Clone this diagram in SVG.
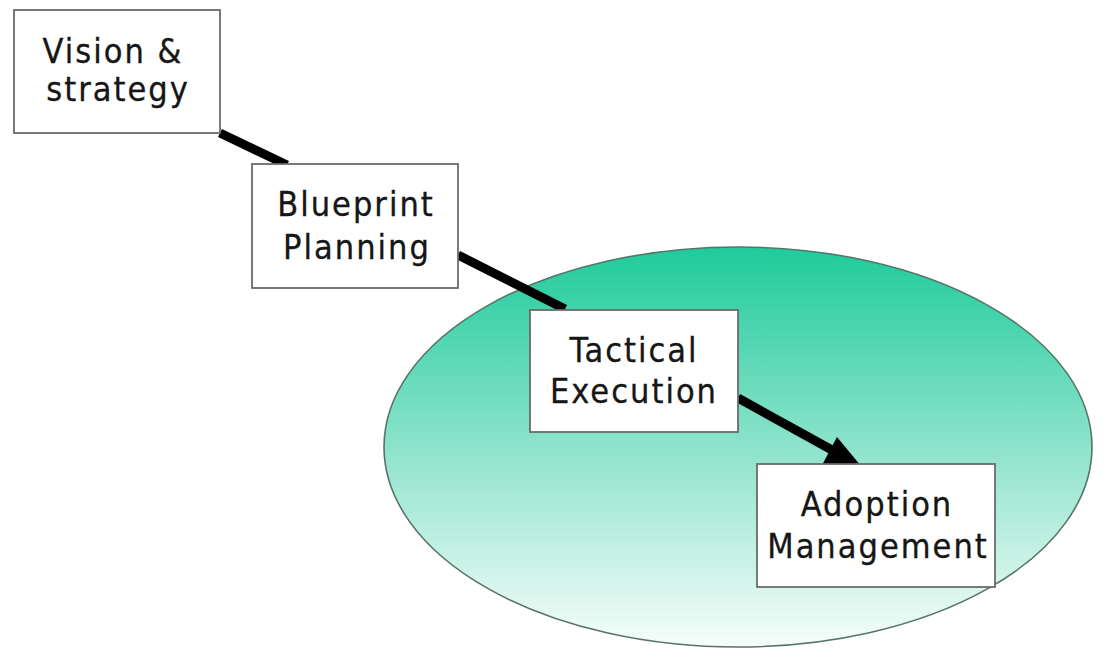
<svg xmlns="http://www.w3.org/2000/svg" width="1104" height="649" viewBox="0 0 1104 649">
  <style>
    .box { fill: #ffffff; stroke: #6b6b6b; stroke-width: 1.8; }
    .label { font-family: "DejaVu Sans Condensed", "DejaVu Sans", Verdana, sans-serif; font-stretch: condensed; font-size: 34px; letter-spacing: 2px; fill: #161616; stroke: #161616; stroke-width: 0.3; text-anchor: middle; }
    .link { stroke: #000000; stroke-width: 9; fill: none; }
  </style>
  <defs>
    <linearGradient id="tealFade" x1="0" y1="0" x2="0" y2="1">
      <stop offset="0" stop-color="#1fcb9a"/>
      <stop offset="0.5" stop-color="#8de3cb"/>
      <stop offset="1" stop-color="#f7fdfb"/>
    </linearGradient>
  </defs>

  <rect width="1104" height="649" fill="#ffffff"/>

  <!-- scope ellipse -->
  <ellipse id="scope" cx="738" cy="447" rx="354" ry="200" fill="url(#tealFade)" stroke="#557568" stroke-width="1.6"/>

  <!-- connectors -->
  <g id="connectors">
    <line class="link" x1="220" y1="133" x2="287" y2="165"/>
    <line class="link" x1="458" y1="255" x2="565" y2="309"/>
    <line class="link" x1="738" y1="398" x2="832" y2="450"/>
    <polygon points="866,472 821,467 837,437" fill="#000000"/>
  </g>

  <g id="vision">
    <rect class="box" x="14" y="10" width="206" height="123"/>
    <text class="label" x="113" y="63">Vision &amp;</text>
    <text class="label" x="118" y="101">strategy</text>
  </g>

  <g id="blueprint">
    <rect class="box" x="252" y="164" width="206" height="124"/>
    <text class="label" x="356" y="216">Blueprint</text>
    <text class="label" x="357" y="259">Planning</text>
  </g>

  <g id="tactical">
    <rect class="box" x="530" y="310" width="208" height="122"/>
    <text class="label" x="634" y="362">Tactical</text>
    <text class="label" x="634" y="403">Execution</text>
  </g>

  <g id="adoption">
    <rect class="box" x="757" y="464" width="238" height="123"/>
    <text class="label" x="877" y="516">Adoption</text>
    <text class="label" x="878" y="558">Management</text>
  </g>
</svg>
